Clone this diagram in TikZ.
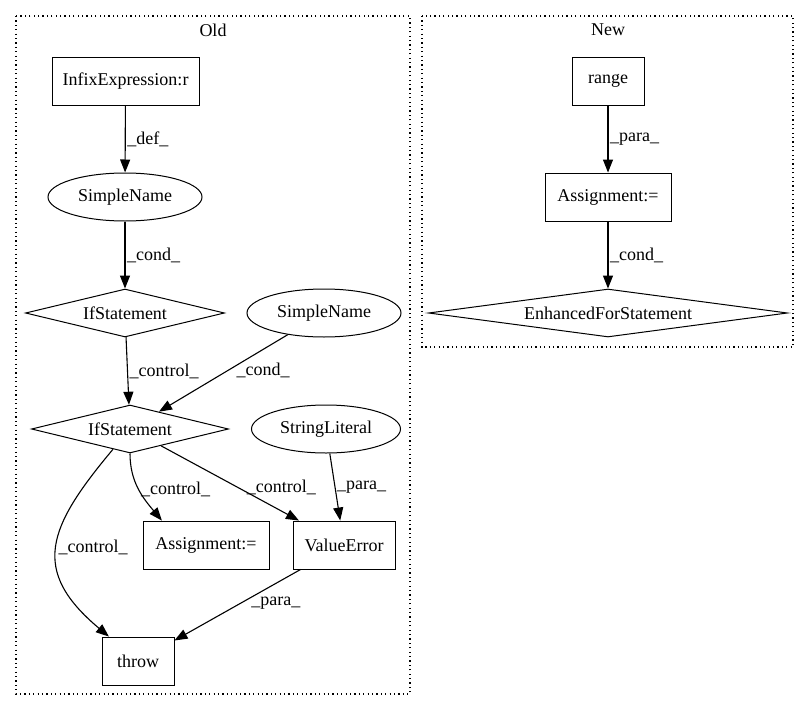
\documentclass[tikz,border=0pt]{standalone}
\usepackage{fontspec}
\setmainfont{Liberation Serif}
\usetikzlibrary{shapes.geometric,arrows.meta,positioning}
\tikzset{
	>={Triangle[length=13pt,width=10pt]},
	every node/.style={font=\fontsize{18}{21}\selectfont, inner sep=1.5pt},
	box/.style={draw, rectangle, line width=0.9pt, minimum height=48pt},
	oval/.style={draw, ellipse, line width=1pt, minimum width=154pt, minimum height=48pt},
	cond/.style={draw, diamond, aspect=4, line width=1pt, minimum width=199pt, minimum height=48pt},
	flow/.style={->, line width=1.1pt},
	cluster/.style={line width=1.1pt, dash pattern=on 1.2pt off 3.2pt},
}

\begin{document}
\begin{tikzpicture}[x=1pt,y=1pt]
		\useasboundingbox (0,0) rectangle (809,-712);
		\draw[cluster] (16,-16) rectangle (410,-694);
		\draw[cluster] (422,-16) rectangle (793,-347);
		\node (old) at (213,-30) {Old};
		\node (new) at (608,-30) {New};

		\node[box, minimum width=147pt] (inf) at (125.5,-81) {InfixExpression:r};
		\node[oval] (sn) at (125,-197) {SimpleName};
		\node[cond] (if) at (125,-313) {IfStatement};
		\node[oval] (snb) at (324,-313) {SimpleName};
		\node[cond, minimum width=197pt] (ifb) at (130,-429) {IfStatement};
		\node[oval, minimum width=149pt] (str) at (326,-429) {StringLiteral};
		\node[box, minimum width=126pt] (asg) at (206,-545) {Assignment:=};
		\node[box, minimum width=102pt] (val) at (344,-545) {ValueError};
		\node[box, minimum width=72pt] (thr) at (138,-661) {throw};

		\node[box, minimum width=72pt] (rng) at (608,-81) {range};
		\node[box, minimum width=126pt] (nasg) at (608,-197) {Assignment:=};
		\node[cond, aspect=7, minimum width=359pt] (efor) at (608,-313) {EnhancedForStatement};

		\draw[flow] (inf) edge node[right]{\_def\_} (sn)
		(sn) edge node[right]{\_cond\_} (if)
		(if) edge node[right]{\_control\_} (ifb)
		(snb) edge node[pos=0.46, right=6pt]{\_cond\_} (ifb)
		(ifb) edge[out=-90, in=130] node[right]{\_control\_} (asg.151)
		(ifb) edge node[pos=0.55, right=8pt]{\_control\_} (val)
		(str) edge node[right]{\_para\_} (val)
		(ifb) edge[out=-130, in=140, looseness=1.4] node[right]{\_control\_} (thr)
		(val) edge node[pos=0.47, right=8pt]{\_para\_} (thr)
		(rng) edge node[right]{\_para\_} (nasg)
		(nasg) edge node[right]{\_cond\_} (efor);
	\end{tikzpicture}
\end{document}
